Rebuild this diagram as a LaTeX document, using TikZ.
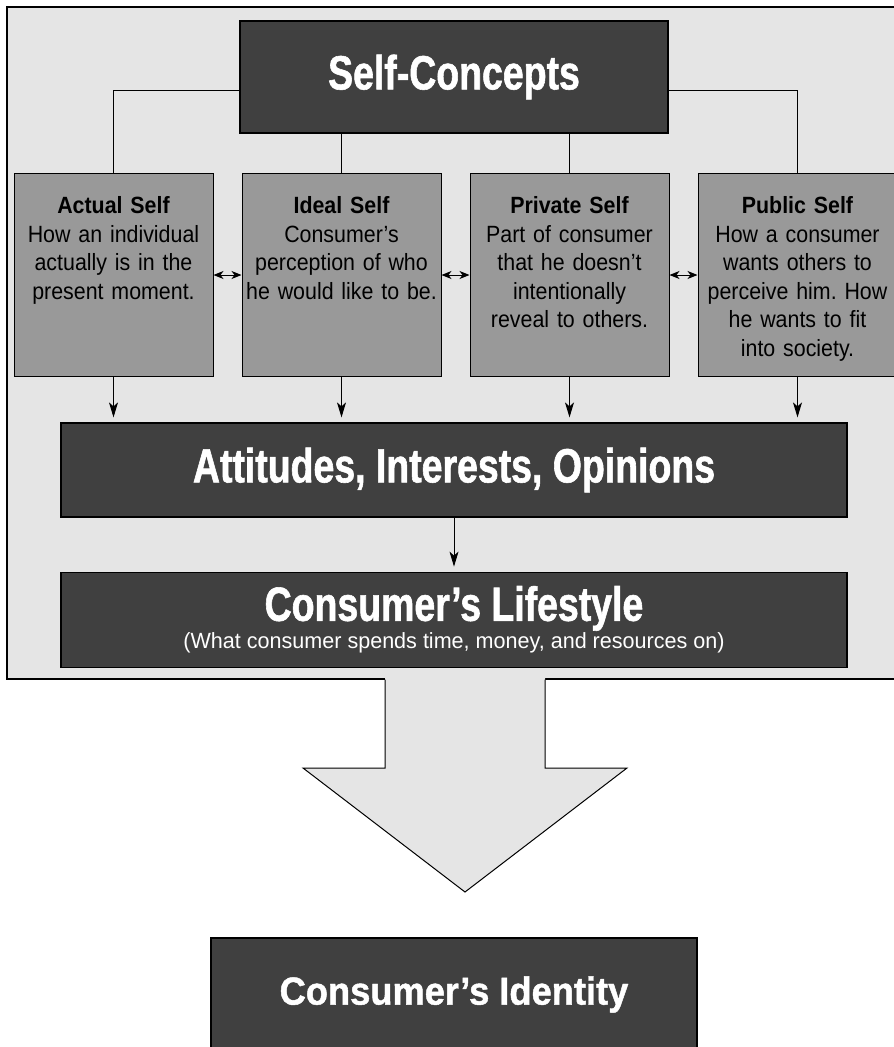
\documentclass[tikz,border=0pt]{standalone}
\usepackage{fontspec}
\setmainfont{Liberation Sans}[FakeStretch=0.91]
\newfontfamily\headfont{Liberation Sans}[FakeStretch=0.78,BoldFeatures={FakeBold=1.2}]
\newfontfamily\lifefont{Liberation Sans}[FakeStretch=0.98]
\newfontfamily\identfont{Liberation Sans}[FakeStretch=0.93,BoldFeatures={FakeBold=1.2}]
\usetikzlibrary{arrows.meta,positioning}
\definecolor{darkbox}{HTML}{404040}
\definecolor{midbox}{HTML}{999999}
\definecolor{panel}{HTML}{E5E5E5}
\frenchspacing

\begin{document}
\begin{tikzpicture}[x=1pt,y=1pt,>={Stealth[length=15pt,width=9pt,inset=4pt]},line width=1pt,
    head node/.style={rectangle,draw,fill=darkbox,text=white,line width=1.2pt,font=\headfont\bfseries\fontsize{48}{50}\selectfont},
    self node/.style={rectangle,draw,fill=midbox,align=center,text width=196pt,inner xsep=1.5pt,inner ysep=0pt,text height=40pt,text depth=163pt,font=\fontsize{23.5}{28.5}\selectfont}]
  \useasboundingbox (0,0) rectangle (894,-1047);
  % panel and the big arrow
  \draw[fill=panel,line width=1.5pt] (7,-7) rectangle (905,-679);
  \fill[panel] (385,-676) -- (385,-768) -- (303,-768) -- (465,-892) -- (627,-768) -- (545,-768) -- (545,-676) -- cycle;
  \draw (385,-679.5) -- (385,-768) -- (303,-768) -- (465,-892) -- (627,-768) -- (545,-768) -- (545,-679.5);

    \node[head node,minimum width=428pt,minimum height=112pt] (sc) at (454,-77) {Self-Concepts};
    \node[self node,anchor=north] (actual) at (113.5,-173) {\textbf{Actual Self}\\How an individual\\actually is in the\\present moment.};
    \node[self node] (ideal) [right=28pt of actual] {\textbf{Ideal Self}\\Consumer’s\\perception of who\\he would like to be.};
    \node[self node] (private) [right=28pt of ideal] {\textbf{Private Self}\\Part of consumer\\that he doesn’t\\intentionally\\reveal to others.};
    \node[self node] (public) [right=28pt of private] {\textbf{Public Self}\\How a consumer\\wants others to\\perceive him. How\\he wants to fit\\into society.};
    \node[head node,minimum width=786pt,minimum height=94pt] (aio) at (454,-470) {Attitudes, Interests, Opinions};
    \node[head node,minimum width=786pt,minimum height=95pt,align=center,font=\lifefont\fontsize{22}{28}\selectfont] (life) [below=54pt of aio]
      {{\headfont\bfseries\fontsize{48}{28}\selectfont Consumer’s Lifestyle}\\(What consumer spends time, money, and resources on)};
    \node[head node,minimum width=486pt,minimum height=113pt,font=\identfont\bfseries\fontsize{39}{40}\selectfont] (ident) at (454,-994.5) {Consumer’s Identity};

  \draw ([yshift=-13pt]sc.west) -| (actual);
  \draw ([yshift=-13pt]sc.east) -| (public);
  \draw (sc.south -| ideal) -- (ideal);
  \draw (sc.south -| private) -- (private);

  \path[{Stealth[length=10pt,width=8pt,inset=3pt]}-{Stealth[length=10pt,width=8pt,inset=3pt]}]
  (actual) edge (ideal)
  (ideal) edge (private)
  (private) edge (public);

  \path[->,shorten >=5pt]
  (actual) edge (actual.south |- aio.north)
  (ideal) edge (ideal.south |- aio.north)
  (private) edge (private.south |- aio.north)
  (public) edge (public.south |- aio.north)
  (aio) edge (life);
  \end{tikzpicture}
\end{document}
